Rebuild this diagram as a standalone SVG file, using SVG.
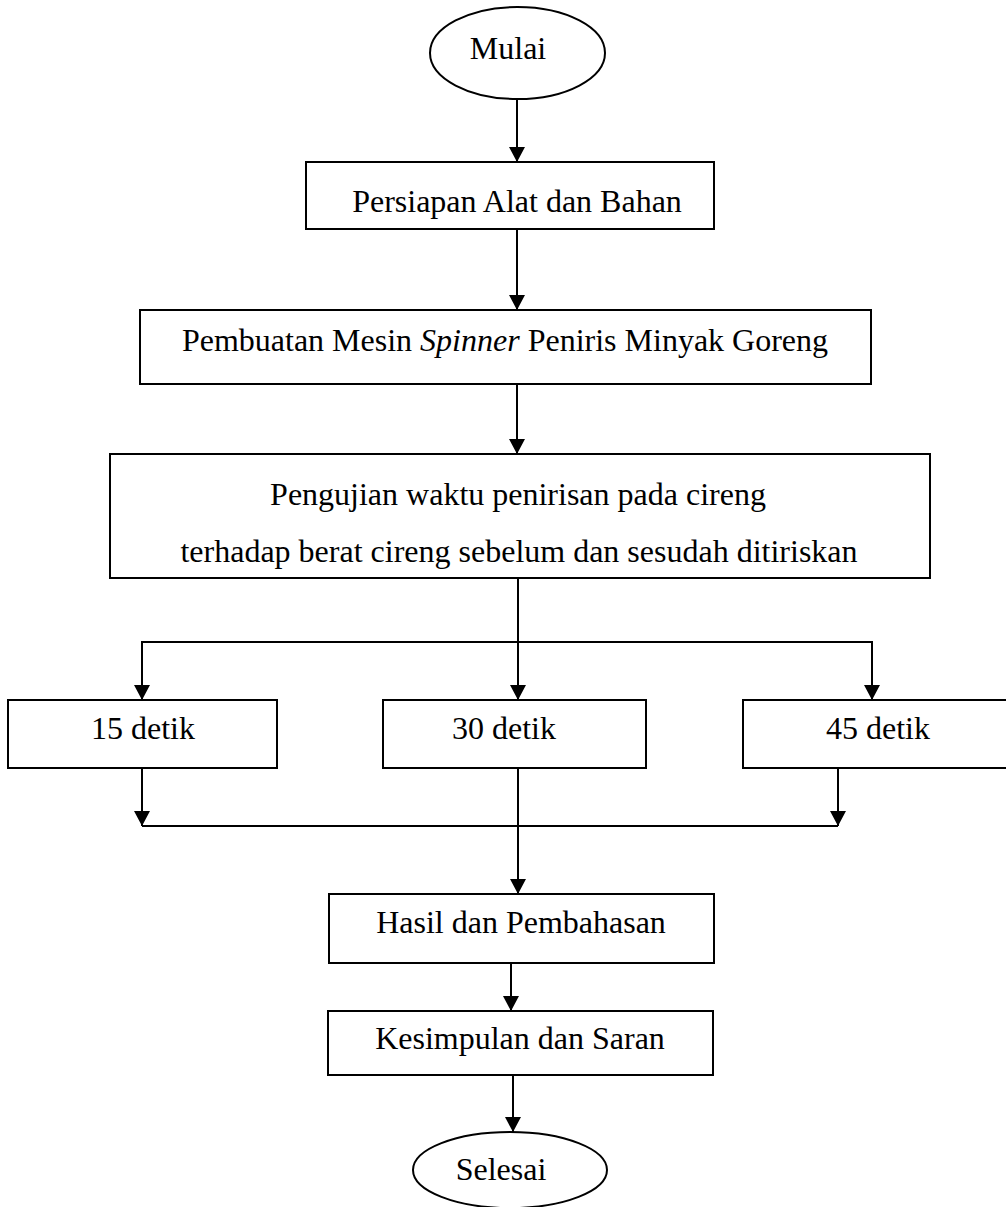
<svg xmlns="http://www.w3.org/2000/svg" width="1006" height="1207" viewBox="0 0 1006 1207">
<style>
.shape{fill:#fff;stroke:#000;stroke-width:2}
.t{font-family:"Liberation Serif","Times New Roman",serif;font-size:32px;fill:#000;text-anchor:middle}
.c{fill:none;stroke:#000;stroke-width:2}
</style>
<defs>
<marker id="ah" markerUnits="userSpaceOnUse" markerWidth="16" markerHeight="16" refX="15" refY="8" orient="auto">
<path d="M0,0 L15,8 L0,16 z" fill="#000"/>
</marker>
</defs>
<rect width="1006" height="1207" fill="#fff"/>
<g id="connectors">
<line class="c" x1="517" y1="99" x2="517" y2="162" marker-end="url(#ah)"/>
<line class="c" x1="517" y1="229" x2="517" y2="310" marker-end="url(#ah)"/>
<line class="c" x1="517" y1="384" x2="517" y2="454" marker-end="url(#ah)"/>
<line class="c" x1="518" y1="578" x2="518" y2="700" marker-end="url(#ah)"/>
<polyline class="c" points="142,700 142,642 872,642 872,700" marker-end="url(#ah)"/>
<line class="c" x1="142" y1="642" x2="142" y2="700" marker-end="url(#ah)"/>
<line class="c" x1="142" y1="768" x2="142" y2="826" marker-end="url(#ah)"/>
<line class="c" x1="838" y1="768" x2="838" y2="826" marker-end="url(#ah)"/>
<line class="c" x1="142" y1="826" x2="838" y2="826"/>
<line class="c" x1="518" y1="768" x2="518" y2="894" marker-end="url(#ah)"/>
<line class="c" x1="511" y1="963" x2="511" y2="1011" marker-end="url(#ah)"/>
<line class="c" x1="513" y1="1075" x2="513" y2="1132" marker-end="url(#ah)"/>
</g>
<g id="mulai">
<ellipse class="shape" cx="517.5" cy="53" rx="87.5" ry="46"/>
<text class="t" x="508" y="59">Mulai</text>
</g>
<g id="persiapan">
<rect class="shape" x="306" y="162" width="408" height="67"/>
<text class="t" x="517" y="212">Persiapan Alat dan Bahan</text>
</g>
<g id="pembuatan">
<rect class="shape" x="140" y="310" width="731" height="74"/>
<text class="t" x="505" y="351">Pembuatan Mesin <tspan font-style="italic">Spinner</tspan> Peniris Minyak Goreng</text>
</g>
<g id="pengujian">
<rect class="shape" x="110" y="454" width="820" height="124"/>
<text class="t" x="518" y="505">Pengujian waktu penirisan pada cireng</text>
<text class="t" x="519" y="562">terhadap berat cireng sebelum dan sesudah ditiriskan</text>
</g>
<g id="d15">
<rect class="shape" x="8" y="700" width="269" height="68"/>
<text class="t" x="143" y="739">15 detik</text>
</g>
<g id="d30">
<rect class="shape" x="383" y="700" width="263" height="68"/>
<text class="t" x="504" y="739">30 detik</text>
</g>
<g id="d45">
<rect class="shape" x="743" y="700" width="270" height="68"/>
<text class="t" x="878" y="739">45 detik</text>
</g>
<g id="hasil">
<rect class="shape" x="329" y="894" width="385" height="69"/>
<text class="t" x="521" y="933">Hasil dan Pembahasan</text>
</g>
<g id="kesimpulan">
<rect class="shape" x="328" y="1011" width="385" height="64"/>
<text class="t" x="520" y="1049">Kesimpulan dan Saran</text>
</g>
<g id="selesai">
<ellipse class="shape" cx="510" cy="1170" rx="97" ry="38"/>
<text class="t" x="501" y="1180">Selesai</text>
</g>
</svg>
